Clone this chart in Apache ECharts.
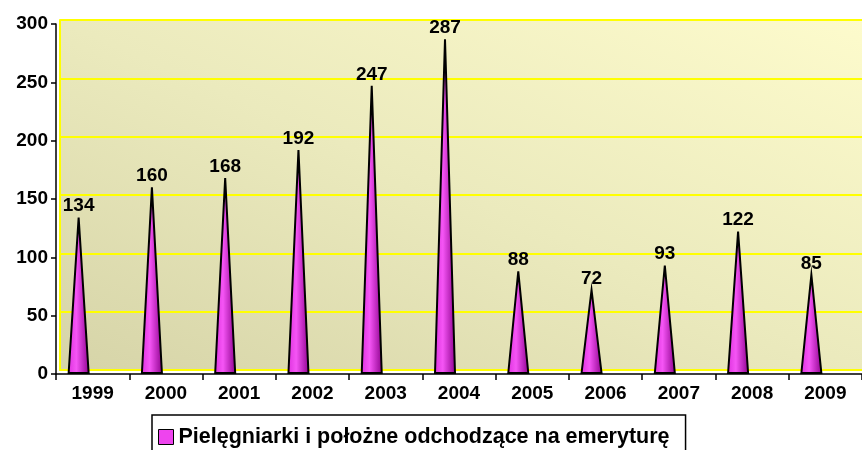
<!DOCTYPE html>
<html>
<head>
<meta charset="utf-8">
<script src="https://cdn.jsdelivr.net/npm/echarts@6/dist/echarts.min.js"></script>
<style>
  html, body { margin: 0; padding: 0; background: #fff; }
  #chart { width: 862px; height: 450px; }
</style>
</head>
<body>
<div id="chart"></div>
<script>
// values
const years = ['1999', '2000', '2001', '2002', '2003', '2004', '2005', '2006', '2007', '2008', '2009'];
const retiring = [134, 160, 168, 192, 247, 287, 88, 72, 93, 122, 85];
const seriesName = 'Pielęgniarki i położne odchodzące na emeryturę';

const FONT = '"Liberation Sans", Arial, sans-serif';

const chart = echarts.init(document.getElementById('chart'));

function coneFill() {
  return new echarts.graphic.LinearGradient(0, 0, 1, 0, [
    { offset: 0, color: '#dc30dc' },
    { offset: 0.4, color: '#f555f5' },
    { offset: 1, color: '#8c008c' }
  ]);
}

// cone drawn as a triangle, sitting a bit left of the category centre (3d depth)
function renderCone(params, api) {
  const base = api.coord([api.value(0), 0]);
  const tip = api.coord([api.value(0), api.value(1)]);
  const cx = tip[0] - 14;
  return {
    type: 'polygon',
    shape: { points: [[cx - 10, base[1] - 1], [cx, tip[1]], [cx + 10, base[1] - 1]] },
    style: { fill: coneFill(), stroke: '#000', lineWidth: 2 },
    textContent: {
      style: {
        text: String(api.value(1)),
        fontFamily: FONT, fontWeight: 'bold', fontSize: 19, fill: '#000'
      }
    },
    textConfig: { position: 'top', distance: 1 }
  };
}

chart.setOption({
  animation: false,
  grid: [
    // back wall, pushed up/right a few px like the 3d excel wall
    {
      left: 60, right: 0, top: 20, bottom: 80,
      show: true,
      borderWidth: 0,
      // diagonal in pixel space: dark bottom-left corner -> light top-right corner
      backgroundColor: new echarts.graphic.LinearGradient(0.341, 1.341, 0.659, -0.341, [
        { offset: 0, color: '#d6d4a8' },
        { offset: 0.5, color: '#ebeabd' },
        { offset: 1, color: '#fdfbcc' }
      ])
    },
    { left: 56, right: 0, top: 24, bottom: 76 }
  ],
  legend: {
    data: [seriesName],
    left: 152,
    top: 415,
    padding: [11, 16, 14, 6],
    itemWidth: 15,
    itemHeight: 15,
    itemGap: 6,
    borderColor: '#000',
    borderWidth: 1.5,
    icon: 'rect',
    itemStyle: { color: '#ee44ee', borderColor: '#000', borderWidth: 1 },
    textStyle: { fontFamily: FONT, fontWeight: 'bold', fontSize: 21.5, color: '#000' }
  },
  xAxis: [
    {
      gridIndex: 0, type: 'category', data: years,
      axisLine: { show: true, lineStyle: { color: '#ffff00', width: 2 } },
      axisTick: { show: false }, axisLabel: { show: false }, splitLine: { show: false }
    },
    {
      gridIndex: 1, type: 'category', data: years,
      axisLine: { lineStyle: { color: '#000', width: 1.5 } },
      axisTick: { show: true, length: 6, lineStyle: { color: '#000', width: 1.5 } },
      axisLabel: { fontFamily: FONT, fontWeight: 'bold', fontSize: 19, color: '#000', margin: 10 }
    }
  ],
  yAxis: [
    {
      gridIndex: 0, type: 'value', min: 0, max: 300, interval: 50,
      axisLine: { show: true, lineStyle: { color: '#ffff00', width: 2 } },
      axisTick: { show: false }, axisLabel: { show: false },
      splitLine: { lineStyle: { color: '#ffff00', width: 2 } }
    },
    {
      gridIndex: 1, type: 'value', min: 0, max: 300, interval: 50,
      axisLine: { show: true, lineStyle: { color: '#000', width: 1.5 } },
      axisTick: { show: true, length: 5, lineStyle: { color: '#000', width: 1.5 } },
      axisLabel: { fontFamily: FONT, fontWeight: 'bold', fontSize: 19, color: '#000', margin: 8 },
      splitLine: { show: false }
    }
  ],
  series: [
    {
      name: seriesName,
      type: 'custom',
      xAxisIndex: 1,
      yAxisIndex: 1,
      itemStyle: { color: '#ee44ee' },
      encode: { x: 0, y: 1 },
      data: years.map((y, i) => [i, retiring[i]]),
      renderItem: renderCone
    }
  ]
});
</script>
</body>
</html>
